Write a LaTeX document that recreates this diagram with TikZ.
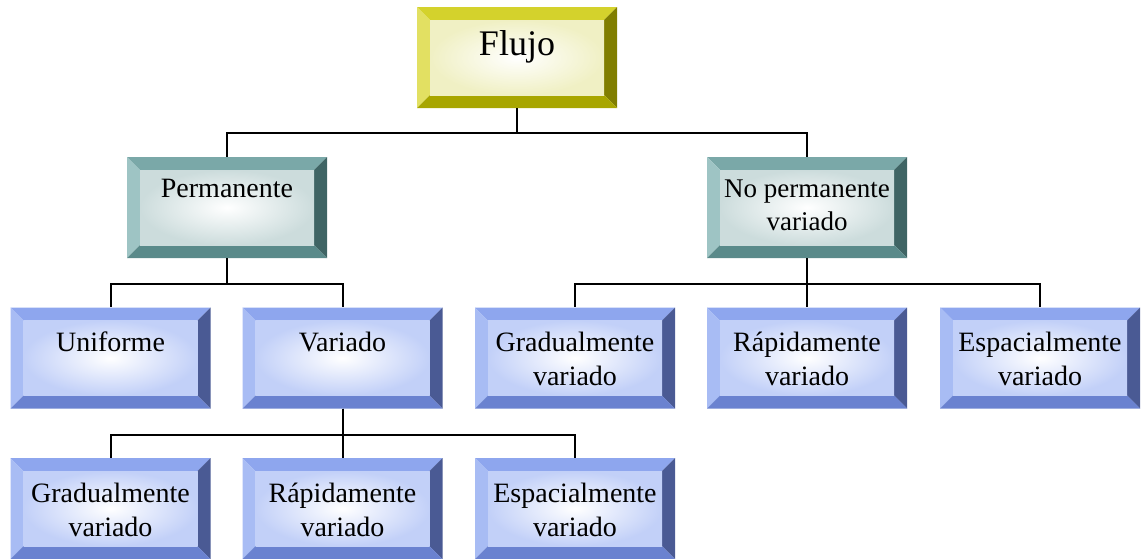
\documentclass[tikz,border=0pt]{standalone}
\usepackage{fontspec}
\setmainfont{Liberation Serif}
\usepackage{tikz}

\newcommand{\bevw}{13pt}
\tikzset{
  bevelbox/.style n args={5}{rectangle, minimum width=200pt, minimum height=101pt,
    inner sep=0pt, align=center,
    path picture={
      \fill [#1] (path picture bounding box.north west) -- (path picture bounding box.north east)
        -- ([xshift=-\bevw, yshift=-\bevw]path picture bounding box.north east)
        -- ([xshift=\bevw, yshift=-\bevw]path picture bounding box.north west) -- cycle;
      \fill [#2] (path picture bounding box.north west)
        -- ([xshift=\bevw, yshift=-\bevw]path picture bounding box.north west)
        -- ([xshift=\bevw, yshift=\bevw]path picture bounding box.south west)
        -- (path picture bounding box.south west) -- cycle;
      \fill [#3] (path picture bounding box.north east) -- (path picture bounding box.south east)
        -- ([xshift=-\bevw, yshift=\bevw]path picture bounding box.south east)
        -- ([xshift=-\bevw, yshift=-\bevw]path picture bounding box.north east) -- cycle;
      \fill [#4] (path picture bounding box.south west)
        -- ([xshift=\bevw, yshift=\bevw]path picture bounding box.south west)
        -- ([xshift=-\bevw, yshift=\bevw]path picture bounding box.south east)
        -- (path picture bounding box.south east) -- cycle;
      \shade [inner color=white, outer color=#5] ([xshift=\bevw, yshift=\bevw]path picture bounding box.south west)
        rectangle ([xshift=-\bevw, yshift=-\bevw]path picture bounding box.north east);
    }},
  yellowbox/.style={bevelbox={yTop}{yLeft}{yRight}{yBot}{yIn},
    font=\fontsize{36}{40}\selectfont, text height=30pt, text depth=35pt},
  tealbox/.style={bevelbox={tTop}{tLeft}{tRight}{tBot}{tIn},
    font=\fontsize{28}{34}\selectfont, text height=30pt, text depth=51pt},
  tealtwo/.style={tealbox, font=\fontsize{27}{33}\selectfont, text height=63pt, text depth=18pt},
  bluebox/.style={bevelbox={bTop}{bLeft}{bRight}{bBot}{bIn},
    font=\fontsize{28}{34}\selectfont, text height=30pt, text depth=43pt},
  bluetwo/.style={bluebox, text height=64pt, text depth=9pt},
  link/.style={line width=2pt}
}
\definecolor{yTop}{HTML}{D4D22C}
\definecolor{yLeft}{HTML}{E2E062}
\definecolor{yRight}{HTML}{807E00}
\definecolor{yBot}{HTML}{A8A600}
\definecolor{yIn}{HTML}{F0F0C4}
\definecolor{tTop}{HTML}{7AA8A8}
\definecolor{tLeft}{HTML}{9EC4C4}
\definecolor{tRight}{HTML}{3F6464}
\definecolor{tBot}{HTML}{5A8A8A}
\definecolor{tIn}{HTML}{CCDCDC}
\definecolor{bTop}{HTML}{8EA6EE}
\definecolor{bLeft}{HTML}{A8BCF4}
\definecolor{bRight}{HTML}{4A5A94}
\definecolor{bBot}{HTML}{6A82D0}
\definecolor{bIn}{HTML}{C2D0F8}

\begin{document}
\begin{tikzpicture}[x=1pt, y=-1pt]
\useasboundingbox (0,0) rectangle (1141,558);

\node [yellowbox] (flujo) at (517, 57.5) {Flujo};

\node [tealbox] (perm) at (227, 207.5) {Permanente};
\node [tealtwo] (noperm) at (807, 207.5) {No permanente\\variado};

\node [bluebox] (unif) at (110.5, 358) {Uniforme};
\node [bluebox] (var) at (342.5, 358) {Variado};
\node [bluetwo] (gradR) at (575, 358) {Gradualmente\\variado};
\node [bluetwo] (rapR) at (807, 358) {Rápidamente\\variado};
\node [bluetwo] (espR) at (1040, 358) {Espacialmente\\variado};

\node [bluetwo] (gradV) at (110.5, 508.5) {Gradualmente\\variado};
\node [bluetwo] (rapV) at (342.5, 508.5) {Rápidamente\\variado};
\node [bluetwo] (espV) at (575, 508.5) {Espacialmente\\variado};

\draw [link] (flujo.south) -- ++(0,25) -| (perm.north);
\draw [link] (flujo.south) -- ++(0,25) -| (noperm.north);

\draw [link] (perm.south) -- ++(0,26) -| (unif.north);
\draw [link] (perm.south) -- ++(0,26) -| (var.north);

\draw [link] (noperm.south) -- ++(0,26) -| (gradR.north);
\draw [link] (noperm.south) -- (rapR.north);
\draw [link] (noperm.south) -- ++(0,26) -| (espR.north);

\draw [link] (var.south) -- ++(0,26) -| (gradV.north);
\draw [link] (var.south) -- (rapV.north);
\draw [link] (var.south) -- ++(0,26) -| (espV.north);
\end{tikzpicture}
\end{document}
